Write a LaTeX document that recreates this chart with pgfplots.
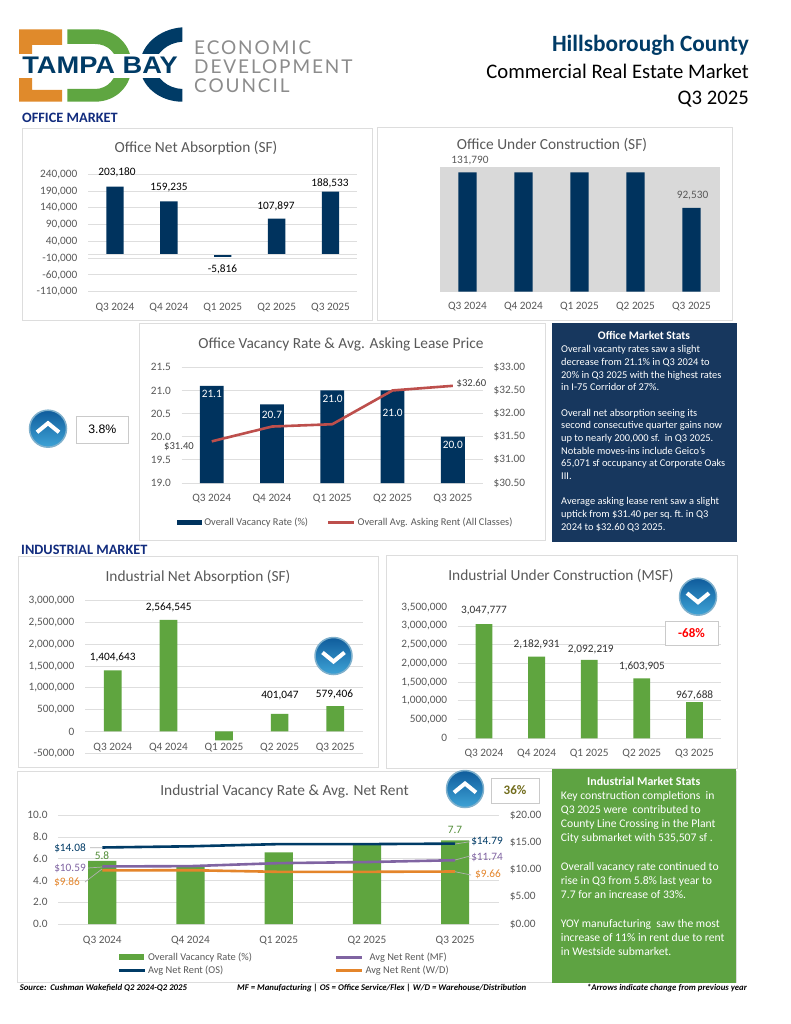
\documentclass[border=0pt]{standalone}
\usepackage{fontspec}
\setmainfont{Carlito}
\newfontfamily\logofont[LetterSpace=10]{Lato}
\newfontfamily\arialf{Liberation Sans}
\usepackage{pgfplots}
\pgfplotsset{compat=1.18}
\definecolor{navy}{HTML}{00335E}
\definecolor{boxnavy}{HTML}{17375E}
\definecolor{barg}{HTML}{5FA53F}
\definecolor{boxg}{HTML}{5EA342}
\definecolor{gridc}{HTML}{DEDEDE}
\definecolor{tickc}{HTML}{595959}
\definecolor{panelc}{HTML}{DDDDDD}
\definecolor{rentred}{HTML}{BD4F4C}
\definecolor{purp}{HTML}{8064A2}
\definecolor{orng}{HTML}{E4852B}
\definecolor{osblue}{HTML}{003B66}
\definecolor{logoor}{HTML}{E08A2B}
\definecolor{logog}{HTML}{5FA641}
\definecolor{logon}{HTML}{003B66}
\definecolor{logot}{HTML}{8C8C8C}
\definecolor{balltop}{HTML}{0F5C9C}
\definecolor{ballbot}{HTML}{3EA3D6}
\definecolor{ballring}{HTML}{7FB0CC}
\newcommand\tickf{\fontsize{11.3}{13}\selectfont}
\newcommand\titf{\fontsize{15.4}{18}\selectfont}
\newcommand\legf{\fontsize{10.4}{12.3}\selectfont}
\newcommand\footf{\fontsize{8.75}{10}\selectfont\bfseries\itshape}
\pgfplotsset{
  base/.style={
    scale only axis, xmin=-0.5, xmax=4.5, enlargelimits=false,
    axis line style={draw=none}, major tick length=0pt, clip=false,
    tick label style={font=\tickf, text=tickc},
    scaled ticks=false,
    /pgf/number format/assume math mode=true,
    /pgf/number format/fixed,
    /pgf/number format/1000 sep={,},
  },
  barax/.style={
    base, ybar, ymajorgrids, grid style={draw=gridc, line width=0.9pt},
    xtick={0,1,2,3,4},
    xticklabels={Q3 2024,Q4 2024,Q1 2025,Q2 2025,Q3 2025},
    xticklabel style={inner sep=0pt, anchor=center},
    yticklabel style={inner sep=0pt, anchor=east, xshift=-10.5pt},
  },
  rightax/.style={
    base, axis x line=none, axis y line*=right,
    yticklabel style={inner sep=0pt, anchor=west, xshift=10.5pt},
    yticklabel={\$\pgfmathprintnumber[fixed,fixed zerofill,precision=2]{\tick}},
  },
  oneprec/.style={/pgf/number format/fixed zerofill, /pgf/number format/precision=1},
  barleg/.style={legend image code/.code={\fill[##1] (0pt,-2.8pt) rectangle (25pt,2.8pt);}},
  lineleg/.style={legend image code/.code={\draw[##1] (0pt,0pt) -- (26pt,0pt);}},
}
% px helpers, used inside a scope with x=1pt,y=-1pt
\newcommand\panel[4]{\draw[panelc, line width=0.9pt, fill=white] (#1,#2) rectangle (#3,#4);}
\newcommand\lbl[4][black]{\node[text=#1, font=\tickf, inner sep=0pt] at (#2,#3) {#4};}
\newcommand\ttl[3]{\node[text=tickc, font=\titf, inner sep=0pt] at (#1,#2) {#3};}
\newcommand\ballicon[3]{% cx cy dir(+1 up, -1 down)
  \draw[draw=ballring, line width=1.5pt, top color=balltop, bottom color=ballbot] (#1,#2) circle[radius=18.5pt];
  \draw[white, line width=4pt] (#1-11,#2+#3*3.5) -- (#1,#2-#3*5.5) -- (#1+11,#2+#3*3.5);}
\newcommand\valbox[7]{\draw[panelc!80!gray, line width=1pt, fill=white] (#1,#2) rectangle (#3,#4);
  \node[text=#5, font=#7, inner sep=0pt] at ({(#1+#3)/2},{(#2+#4)/2}) {#6};}
\newcommand\logoline[2]{\node[text=logot, font=\logofont\fontsize{19}{21}\selectfont, inner sep=0pt, anchor=west] at (194,#1) {#2};}

\begin{document}
\begin{tikzpicture}
\begin{scope}[x=1pt,y=-1pt]
  \fill[white] (0,0) rectangle (791,1024);
  % logo
  \fill[logoor] (19,29.3) rectangle (62,45) (19,29.3) rectangle (32,54) (19,78) rectangle (32,101.7) (19,90) rectangle (62,101.7);
  \fill[logog] (67.3,29.3) -- (95,29.3) .. controls (116,29.3) and (131.7,45) .. (131.7,65.5) .. controls (131.7,86) and (116,101.7) .. (95,101.7) -- (67.3,101.7) -- (67.3,89) -- (95,89) .. controls (108,89) and (117,78) .. (117,65.5) .. controls (117,53) and (108,44) .. (95,44) -- (67.3,44) -- cycle;
  \fill[logon] (182.3,27.3) .. controls (159,29) and (140,45.5) .. (140,65.5) .. controls (140,85.5) and (159,101.7) .. (182.3,101.7) -- (182.3,89) .. controls (168,88.5) and (155,78) .. (155,65.5) .. controls (155,53) and (168,42.5) .. (182.3,41.7) -- cycle;
  \fill[white] (15,54) rectangle (186,78);
  \node[text=logon, font=\arialf\fontsize{24}{26}\selectfont\bfseries, inner sep=0pt] at (100,65) {\scalebox{1.135}[1]{TAMPA BAY}};
  \logoline{47.5}{ECONOMIC}
  \logoline{66.5}{DEVELOPMENT}
  \logoline{86}{COUNCIL}
  % header
  \node[text=logon, font=\fontsize{23.3}{26}\selectfont\bfseries, inner sep=0pt, anchor=east] at (749,45) {Hillsborough County};
  \node[font=\fontsize{20.7}{24}\selectfont, inner sep=0pt, anchor=east] at (749,71) {Commercial Real Estate Market};
  \node[font=\fontsize{20.7}{24}\selectfont, inner sep=0pt, anchor=east] at (749,99.5) {Q3 2025};
  \node[text=boxnavy!80!blue, font=\fontsize{14.3}{16}\selectfont\bfseries, inner sep=0pt, anchor=west] at (22,117.5) {OFFICE MARKET};
  \node[text=boxnavy!80!blue, font=\fontsize{14.3}{16}\selectfont\bfseries, inner sep=0pt, anchor=west] at (21,549.5) {INDUSTRIAL MARKET};
  % panels
  \panel{22}{128}{372}{320}
  \panel{377}{127}{732}{320}
  \panel{139}{323}{545}{540}
  \panel{18.5}{556}{378}{767}
  \panel{386}{555}{737}{768}
  \panel{17.5}{771}{736}{982}
\end{scope}

% Office net absorption
\begin{axis}[barax, at={(88pt,-291.7pt)}, anchor=south west, width=269.5pt, height=117.4pt,
  bar width=17.3pt, ymin=-110000, ymax=240000,
  ytick={-110000,-60000,-10000,40000,90000,140000,190000,240000},
  xticklabel style={yshift=-15.8pt}]
  \addplot[fill=navy, draw=none] coordinates {(0,203180) (1,159235) (2,-5816) (3,107897) (4,188533)};
  \draw[gridc, line width=0.9pt] (axis cs:-0.5,0) -- (axis cs:4.5,0);
\end{axis}

% Office under construction
\begin{axis}[barax, at={(439.5pt,-291.7pt)}, anchor=south west, width=280pt, height=125pt,
  bar width=18.2pt, ymin=0, ymax=137975, ymajorgrids=false, ytick=\empty,
  axis background/.style={fill=black!15},
  xticklabel style={yshift=-14.8pt}]
  \addplot[fill=navy, draw=none] coordinates {(0,131790) (1,131790) (2,131790) (3,131790) (4,92530)};
\end{axis}

% Office vacancy and rent
\begin{axis}[barax, oneprec, at={(181.6pt,-483pt)}, anchor=south west, width=301.4pt, height=115.7pt,
  bar width=23.8pt, ymin=19, ymax=21.5, ytick={19,19.5,20,20.5,21,21.5},
  xticklabel style={yshift=-16pt}]
  \addplot[fill=navy, draw=none] coordinates {(0,21.1) (1,20.7) (2,21.0) (3,21.0) (4,20.0)};
\end{axis}
\begin{axis}[rightax, at={(181.6pt,-483pt)}, anchor=south west, width=301.4pt, height=115.7pt,
  ymin=30.5, ymax=33, ytick={30.5,31,31.5,32,32.5,33},
  legend columns=2, legend cell align=left,
  legend style={draw=none, fill=none, font=\legf, text=tickc, inner sep=0pt, at={(-0.015,-0.343)}, anchor=west,
    /tikz/every even column/.append style={column sep=17pt}}]
  \addlegendimage{barleg, fill=navy, draw=none}
  \addlegendentry{Overall Vacancy Rate (\%)}
  \addplot[lineleg, rentred, line width=2.6pt, line join=round] coordinates {(0,31.40) (1,31.72) (2,31.77) (3,32.50) (4,32.60)};
  \addlegendentry{Overall Avg. Asking Rent (All Classes)}
\end{axis}

% Industrial net absorption
\begin{axis}[barax, at={(85pt,-753.2pt)}, anchor=south west, width=278pt, height=152.4pt,
  bar width=17.7pt, ymin=-500000, ymax=3000000,
  ytick={-500000,0,500000,1000000,1500000,2000000,2500000,3000000},
  xticklabel style={yshift=5.5pt}]
  \addplot[fill=barg, draw=none] coordinates {(0,1404643) (1,2564545) (2,-205000) (3,401047) (4,579406)};
\end{axis}

% Industrial under construction
\begin{axis}[barax, at={(457.7pt,-738.3pt)}, anchor=south west, width=263pt, height=131pt,
  bar width=16.8pt, ymin=0, ymax=3500000,
  ytick={0,500000,1000000,1500000,2000000,2500000,3000000},
  extra y ticks={3500000}, extra y tick style={grid=none},
  xticklabel style={yshift=-15.7pt}]
  \addplot[fill=barg, draw=none] coordinates {(0,3047777) (1,2182931) (2,2092219) (3,1603905) (4,967688)};
\end{axis}

% Industrial vacancy and rents
\begin{axis}[barax, oneprec, at={(58.2pt,-924pt)}, anchor=south west, width=441pt, height=108.7pt,
  bar width=28.2pt, ymin=0, ymax=10, ytick={0,2,4,6,8,10},
  xticklabel style={yshift=-16.5pt}]
  \addplot[fill=barg, draw=none] coordinates {(0,5.8) (1,5.3) (2,6.6) (3,7.25) (4,7.7)};
\end{axis}
\begin{axis}[rightax, at={(58.2pt,-924pt)}, anchor=south west, width=441pt, height=108.7pt,
  ymin=0, ymax=20, ytick={0,5,10,15,20},
  legend columns=2, legend cell align=left,
  legend style={draw=none, fill=none, font=\legf, text=tickc, inner sep=0pt, at={(0.134,-0.244)}, anchor=north west,
    /tikz/every even column/.append style={column sep=81pt}}]
  \addlegendimage{barleg, fill=barg, draw=none}
  \addlegendentry{Overall Vacancy Rate (\%)}
  \addplot[lineleg, purp, line width=2.6pt] coordinates {(0,10.59) (1,10.65) (2,11.2) (3,11.4) (4,11.74)};
  \addlegendentry{\, Avg Net Rent (MF)}
  \addplot[lineleg, osblue, line width=2.6pt] coordinates {(0,14.08) (1,14.3) (2,14.7) (3,14.7) (4,14.79)};
  \addlegendentry{Avg Net Rent (OS)}
  \addplot[lineleg, orng, line width=2.6pt] coordinates {(0,9.86) (1,9.9) (2,9.6) (3,9.6) (4,9.66)};
  \addlegendentry{Avg Net Rent (W/D)}
\end{axis}

\begin{scope}[x=1pt,y=-1pt]
  % titles
  \ttl{196}{148}{Office Net Absorption (SF)}
  \ttl{552}{145}{Office Under Construction (SF)}
  \ttl{341}{344}{Office Vacancy Rate \& Avg. Asking Lease Price}
  \ttl{198}{577}{Industrial Net Absorption (SF)}
  \ttl{561}{576}{Industrial Under Construction (MSF)}
  \ttl{284.5}{791}{Industrial Vacancy Rate \& Avg. Net Rent}
  % value labels
  \lbl{117}{172.3}{203,180} \lbl{169}{188}{159,235} \lbl{222.5}{269}{-5,816}
  \lbl{276}{206}{107,897} \lbl{330}{183}{188,533}
  \lbl[tickc]{470}{161}{131,790} \lbl[tickc]{692.5}{196}{92,530}
  \lbl[white]{211.8}{394}{21.1} \lbl[white]{272}{415}{20.7} \lbl[white]{332.7}{399}{21.0}
  \lbl[white]{392.6}{413}{21.0} \lbl[white]{452.8}{445}{20.0}
  \node[font=\fontsize{10.6}{12}\selectfont, text=black!75, inner sep=0pt] at (179,447) {\$31.40};
  \node[font=\fontsize{10.6}{12}\selectfont, text=black!75, inner sep=0pt] at (471.4,384) {\$32.60};
  \lbl{112.7}{657}{1,404,643} \lbl{168.7}{607}{2,564,545} \lbl{280}{696}{401,047} \lbl{334.5}{694.7}{579,406}
  \lbl[black!80]{484}{611}{3,047,777} \lbl[black!80]{536.6}{644.3}{2,182,931} \lbl[black!80]{590.8}{649.7}{2,092,219}
  \lbl[black!80]{642}{666.7}{1,603,905} \lbl[black!80]{694.6}{695.7}{967,688}
  % rent labels with leaders
  \draw[gridc!80!black, line width=0.7pt] (90,847.7) -- (102,847.7) (85,882) -- (102,869) (88,868) -- (102,867)
     (455,844) -- (470,841.7) (455,860) -- (470,856) (455,871.7) -- (471,875);
  \lbl[barg!85!black]{102}{856}{5.8} \lbl[barg!85!black]{455}{830}{7.7}
  \lbl[osblue]{70}{848.3}{\$14.08} \lbl[purp]{70}{868}{\$10.59} \lbl[orng]{67}{882}{\$9.86}
  \lbl[osblue]{487}{841.7}{\$14.79} \lbl[purp]{487}{857}{\$11.74} \lbl[orng]{488}{874}{\$9.66}
  % icons and change boxes
  \ballicon{48}{428.7}{1}
  \valbox{76}{416}{128.7}{443.3}{black}{3.8\%}{\arialf\fontsize{12.3}{14}\selectfont}
  \ballicon{333.5}{656}{-1}
  \ballicon{698}{596.7}{-1}
  \valbox{665}{621}{718}{645}{red}{-68\%}{\fontsize{13}{15}\selectfont\bfseries}
  \ballicon{465}{789}{1}
  \valbox{491}{778}{539}{803}{olive!75!black}{36\%}{\fontsize{13}{15}\selectfont\bfseries}
  % stats boxes
  \fill[boxnavy] (552,323) rectangle (737,542);
  \node[text=white, font=\fontsize{11.6}{13}\selectfont\bfseries, inner sep=0pt] at (644,335.7) {Office Market Stats};
  \node[text=white, font=\fontsize{10.4}{12.65}\selectfont, inner sep=0pt, anchor=north west, align=left] at (561,345.5) {%
    Overall vacanty rates saw a slight\\
    decrease from 21.1\% in Q3 2024 to\\
    20\% in Q3 2025 with the highest rates\\
    in I-75 Corridor of 27\%.\\[12.65pt]
    Overall net absorption seeing its\\
    second consecutive quarter gains now\\
    up to nearly 200,000 sf.\ \ in Q3 2025.\\
    Notable moves-ins include Geico's\\
    65,071 sf occupancy at Corporate Oaks\\
    III.\\[12.65pt]
    Average asking lease rent saw a slight\\
    uptick from \$31.40 per sq.\ ft.\ in Q3\\
    2024 to \$32.60 Q3 2025.};
  \fill[boxg] (551.7,769.3) rectangle (735.7,983.3);
  \node[text=white, font=\fontsize{11.95}{14}\selectfont\bfseries, inner sep=0pt] at (643.7,781) {Industrial Market Stats};
  \node[text=white, font=\fontsize{11.65}{14.2}\selectfont, inner sep=0pt, anchor=north west, align=left] at (560.7,791) {%
    Key construction completions\ \ in\\
    Q3 2025 were\ \ contributed to\\
    County Line Crossing in the Plant\\
    City submarket with 535,507 sf .\\[14.2pt]
    Overall vacancy rate continued to\\
    rise in Q3 from 5.8\% last year to\\
    7.7 for an increase of 33\%.\\[14.2pt]
    YOY manufacturing\ \ saw the most\\
    increase of 11\% in rent due to rent\\
    in Westside submarket.};
  % footer
  \node[font=\footf, inner sep=0pt, anchor=base west] at (19.6,990.5) {Source:\ \ Cushman Wakefield Q2 2024-Q2 2025};
  \node[font=\footf, inner sep=0pt, anchor=base west] at (237,990.5) {MF = Manufacturing | OS = Office Service/Flex | W/D = Warehouse/Distribution};
  \node[font=\footf, inner sep=0pt, anchor=base west] at (586.7,990.5) {*Arrows indicate change from previous year};
\end{scope}
\end{tikzpicture}
\end{document}
